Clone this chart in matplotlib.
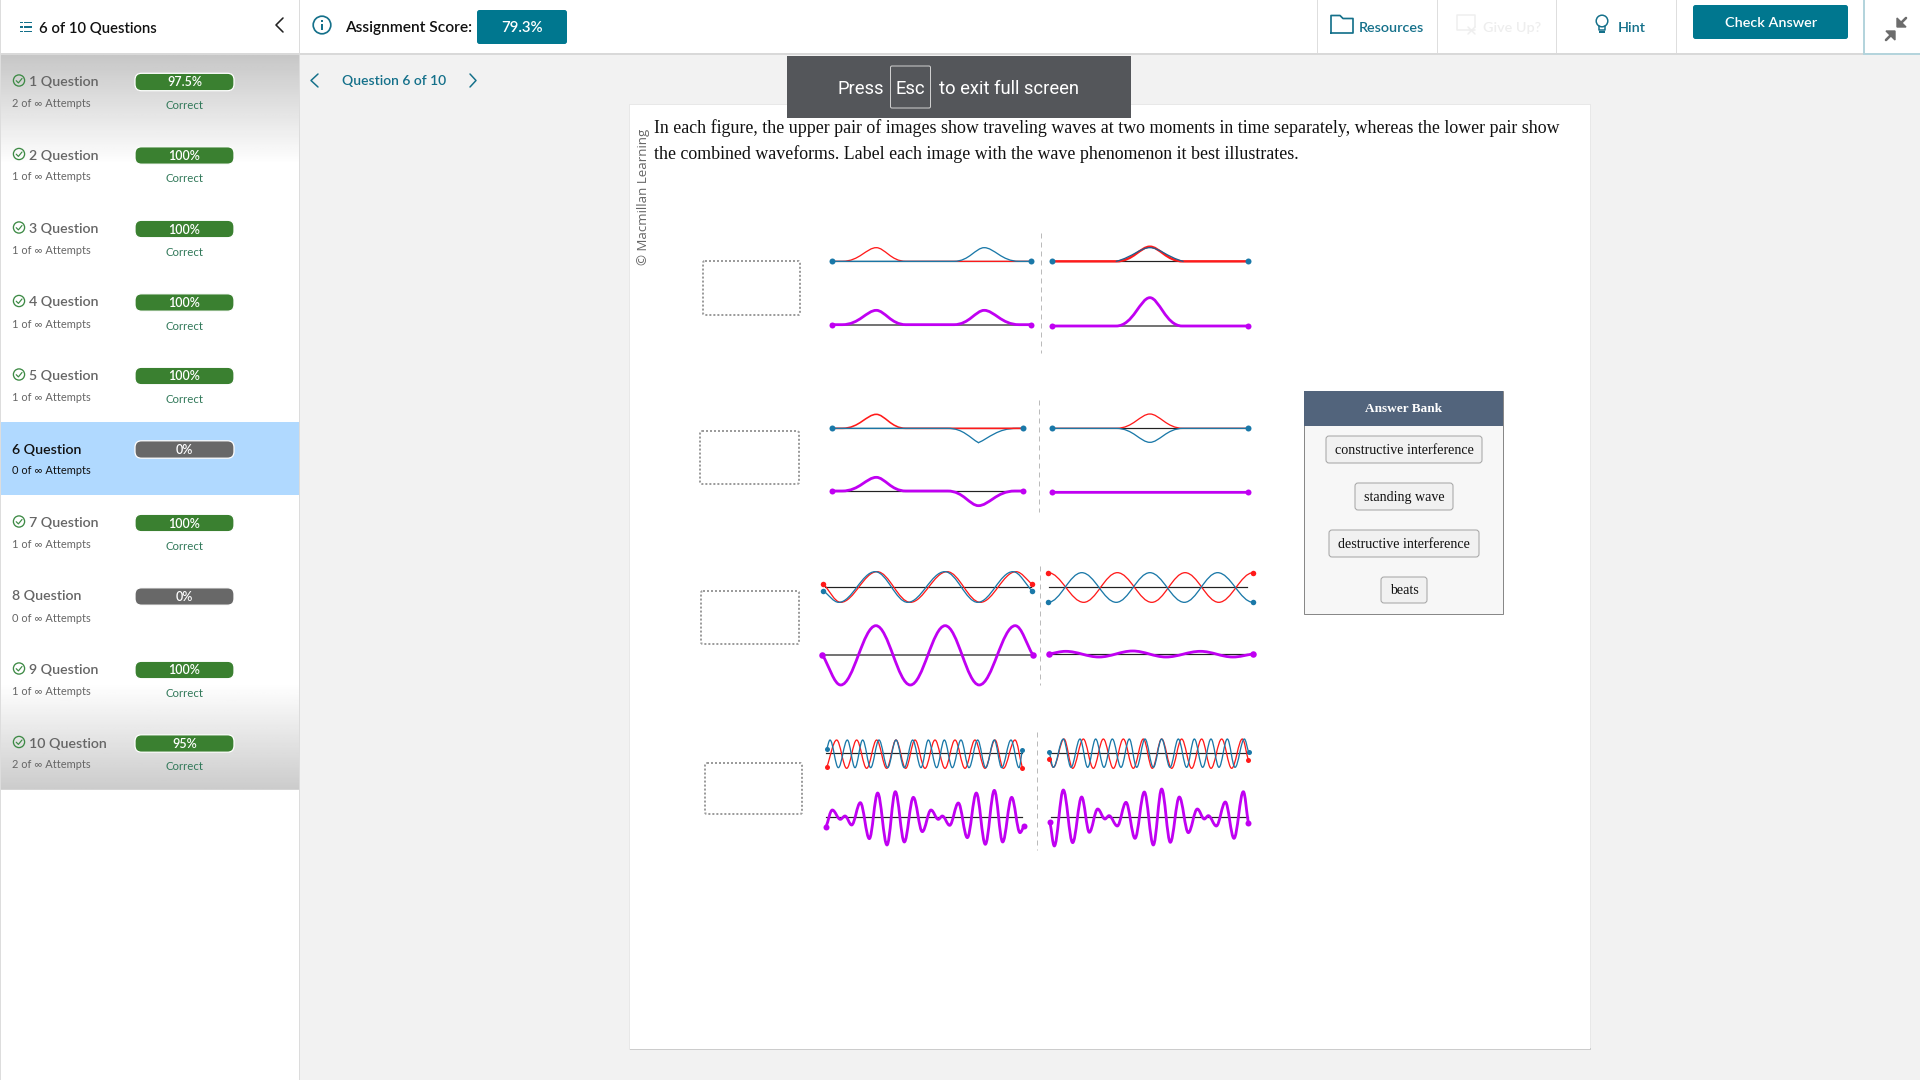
import numpy as np
import matplotlib
matplotlib.use("Agg")
import matplotlib.pyplot as plt
from matplotlib.path import Path
from matplotlib.patches import PathPatch, Rectangle, FancyBboxPatch, Circle

# ---------------- data (wave extrema) ----------------
# x = position along the string, y = displacement
a_red_x = [396, 424, 513, 590, 917]
a_red_y = [0, 0, 41, 0, 0]
a_blue_x = [396, 716, 795, 886, 917]
a_blue_y = [0, 0, 41, 0, 0]
b_red_x = [972, 1140, 1228, 1315, 1485]
b_red_y = [0, 0, 44, 0, 0]
b_blue_x = [1140, 1228, 1315]
b_blue_y = [0, 41, 0]
c_mag_x = [396, 424, 513, 590, 716, 795, 886, 917]
c_mag_y = [0, 0, 43, 0, 0, 43, 0, 0]
d_mag_x = [972, 1140, 1228, 1312, 1485]
d_mag_y = [0, 0, 85, 0, 0]

e_red_x = [396, 424, 513, 590, 896]
e_red_y = [0, 0, 42, 0, 0]
e_blue_x = [396, 700, 780, 880, 896]
e_blue_y = [0, 0, -43, 0, 0]
f_red_x = [972, 1140, 1228, 1315, 1485]
f_red_y = [0, 0, 43, 0, 0]
f_blue_x = [972, 1140, 1228, 1315, 1485]
f_blue_y = [0, 0, -42, 0, 0]
g_mag_x = [396, 424, 513, 590, 700, 780, 875, 896]
g_mag_y = [0, 0, 41, 0, 0, -44, 0, 0]
h_mag_x = [972, 1485]
h_mag_y = [0, 0]

i_red_x = [375, 420, 515, 602, 698, 785, 878, 921]
i_red_y = [9, -45, 47, -45, 47, -45, 47, 9]
i_blue_x = [375, 415, 510, 595, 692, 778, 870, 921]
i_blue_y = [-11, -45, 47, -45, 47, -45, 47, -11]
j_red_x = [962, 1055, 1143, 1233, 1320, 1408, 1498]
j_red_y = [44, -45, 44, -45, 44, -45, 44]
j_blue_x = [962, 1050, 1140, 1228, 1318, 1405, 1498]
j_blue_y = [-45, 44, -45, 44, -45, 44, -45]
k_mag_x = [372, 420, 512, 602, 693, 782, 876, 923]
k_mag_y = [0, -90, 88, -90, 88, -90, 88, -1]
l_mag_x = [964, 1008, 1095, 1183, 1270, 1360, 1445, 1497]
l_mag_y = [-1, 7, -10, 8, -10, 7, -10, -1]

m_blue_x = [35, 45, 70, 97, 120, 143, 167, 192, 218, 243, 268, 293, 318, 340, 365, 388, 412, 438, 462, 488, 512, 538, 560, 588, 612, 622]
m_blue_y = [11, 39, -44, 39, -44, 39, -44, 39, -44, 39, -44, 39, -44, 39, -44, 39, -44, 39, -44, 39, -44, 39, -44, 39, -44, 9]
m_red_x = [35, 65, 95, 125, 155, 185, 215, 243, 272, 300, 330, 360, 390, 420, 450, 480, 510, 540, 565, 600, 622]
m_red_y = [-43, 39, -46, 39, -46, 39, -46, 39, -46, 39, -46, 39, -46, 39, -46, 39, -46, 39, -46, 39, -44]
n_mag_x = [33, 52, 76, 90, 110, 136, 163, 188, 216, 241, 268, 295, 322, 348, 370, 382, 404, 430, 457, 484, 511, 538, 563, 590, 615, 627]
n_mag_y = [-29, 22, -6, 4, -23, 44, -64, 73, -83, 77, -74, 60, -43, 22, -6, 4, -24, 43, -61, 73, -81, 81, -74, 60, -46, -26]

o_blue_x = [43, 55, 85, 108, 135, 158, 182, 207, 232, 258, 283, 305, 330, 355, 380, 405, 430, 455, 478, 503, 528, 552, 577, 600, 628, 641]
o_blue_y = [3, -42, 43, -42, 43, -42, 43, -42, 43, -42, 43, -42, 43, -42, 43, -42, 43, -42, 43, -42, 43, -42, 43, -42, 43, 3]
o_red_x = [43, 55, 87, 113, 145, 175, 205, 235, 265, 295, 325, 352, 380, 410, 440, 470, 500, 528, 560, 590, 622, 640]
o_red_y = [-17, -42, 43, -45, 43, -45, 43, -45, 43, -45, 43, -45, 43, -45, 43, -45, 43, -45, 43, -45, 43, -20]
p_mag_x = [45, 58, 85, 113, 140, 163, 188, 210, 222, 247, 273, 300, 328, 355, 380, 406, 433, 460, 487, 508, 520, 544, 571, 597, 625, 640]
p_mag_y = [-15, -86, 82, -76, 61, -45, 25, -5, 5, -26, 45, -63, 76, -83, 85, -75, 61, -46, 25, -5, 5, -26, 46, -63, 77, -16]

question_numbers = [1, 2, 3, 4, 5, 6, 7, 8, 9, 10]
attempts = [2, 1, 1, 1, 1, 0, 1, 0, 1, 2]
scores = ["97.5%", "100%", "100%", "100%", "100%", "0%", "100%", "0%", "100%", "95%"]
answers = ["constructive interference", "standing wave", "destructive interference", "beats"]
question_lines = [
    "In each figure, the upper pair of images show traveling waves at two moments in time separately, whereas the lower pair show",
    "the combined waveforms. Label each image with the wave phenomenon it best illustrates.",
]

# ---------------- style ----------------
RED = "#ff1a1a"
BLUE = "#1a78a8"
MAG = "#c000f2"
TEAL = "#00778f"
TEALT = "#14708a"
GREEN = "#3a8030"
GREY = "#686868"
UI = "Lato"
SERIF = "Liberation Serif"
px = 72 / 100  # points per pixel at dpi 100

fig = plt.figure(figsize=(19.2, 10.8), dpi=100, facecolor="#f2f2f2")
ax = fig.add_axes([0, 0, 1, 1])
ax.set_xlim(0, 1920)
ax.set_ylim(1080, 0)
ax.axis("off")


def rect(x0, y0, x1, y1, fc, ec="none", lw=0, z=1):
    ax.add_patch(Rectangle((x0, y0), x1 - x0, y1 - y0, fc=fc, ec=ec, lw=lw, zorder=z))


def rbox(x0, y0, x1, y1, r, fc, ec="none", lw=0, z=2, ls="-"):
    ax.add_patch(FancyBboxPatch((x0, y0), x1 - x0, y1 - y0, boxstyle=f"round,pad=0,rounding_size={r}",
                                fc=fc, ec=ec, lw=lw, zorder=z, ls=ls))


def txt(x, y, s, size, color="#111111", ha="left", family=UI, weight="normal", z=5, **kw):
    ax.text(x, y + 1, s, fontsize=size * px, color=color, ha=ha, va="center", family=family,
            weight=weight, zorder=z, **kw)


def poly(xs, ys, color, lw=1.5, z=5):
    ax.plot(xs, ys, color=color, lw=lw * px, zorder=z, solid_capstyle="round", solid_joinstyle="round")


# ---------------- page chrome ----------------
rect(0, 0, 1920, 53, "white")
rect(0, 53, 1920, 55, "#d9d9d9", z=3)
rect(1, 55, 299, 1080, "white")
rect(0, 0, 1, 1080, "#dddddd", z=3)
rect(299, 0, 300, 1080, "#dcdcdc", z=3)

top_grad = np.linspace(0.78, 1.0, 64)[:, None]
ax.imshow(top_grad, extent=(1, 299, 165, 55), cmap="gray", vmin=0, vmax=1, aspect="auto", zorder=1.5)
bot_grad = np.linspace(1.0, 0.80, 64)[:, None]
ax.imshow(bot_grad, extent=(1, 299, 789, 683), cmap="gray", vmin=0, vmax=1, aspect="auto", zorder=1.5)
rect(1, 789, 299, 790, "#d5d5d5", z=2)
ax.set_xlim(0, 1920)
ax.set_ylim(1080, 0)
rect(1, 422, 299, 495, "#b0d9ff", z=1.6)

# sidebar header
for yy in (22.5, 27, 31.5):
    rect(20, yy - 0.9, 22.5, yy + 0.9, TEALT, z=4)
    rect(24, yy - 0.9, 32, yy + 0.9, TEALT, z=4)
txt(39, 28, "6 of 10 Questions", 14.9, weight="semibold")
poly([283, 276, 283], [18, 25, 32], "#222222", 1.6)

# sidebar rows
for i, (q, att, sc) in enumerate(zip(question_numbers, attempts, scores)):
    cy = 81.5 + 73.5 * i
    current = q == 6
    solved = sc != "0%"
    tc = "#111111" if current else "#666666"
    if solved:
        ax.add_patch(Circle((19, cy - 1), 5.6, fc="none", ec="#3d8a45", lw=1.1 * px * 1.2, zorder=4))
        poly([16.2, 18.4, 22], [cy - 0.8, cy + 1.4, cy - 3], "#3d8a45", 1.2)
        tx = 29
    else:
        tx = 12
    txt(tx, cy - 0.5, f"{q} Question", 14.1, tc, weight="semibold")
    txt(12, cy + 21, f"{att} of \u221e Attempts", 11, tc)
    fc = GREEN if solved else GREY
    rbox(135, cy - 8.2, 234, cy + 9.2, 6.5, fc, ec="white", lw=0.9, z=3)
    txt(184.5, cy, sc, 12.5, "white", ha="center", weight="semibold")
    if solved:
        txt(185, cy + 23, "Correct", 11.4, "#32795a", ha="center")

# score area
ax.add_patch(Circle((322, 25), 8.8, fc="none", ec=TEALT, lw=1.7 * px, zorder=4))
rect(321.2, 24, 322.8, 30, TEALT, z=4)
rect(321.2, 20, 322.8, 21.6, TEALT, z=4)
txt(345, 27, "Assignment Score:", 15.5, weight="semibold")
rbox(477, 10, 567, 44, 2.5, TEAL)
txt(522, 27, "79.3%", 15, "white", ha="center", weight="semibold")
poly([318, 311, 318], [74, 80.5, 87], TEALT, 1.5)
txt(342, 80, "Question 6 of 10", 13.9, TEALT, weight="semibold")
poly([470, 476, 470], [74, 80.5, 87], TEALT, 1.5)

# top toolbar
for xx in (1317, 1437, 1556, 1676):
    rect(xx, 0, xx + 1, 53, "#dedede", z=3)
poly([1331, 1331, 1340, 1343, 1353, 1353, 1331], [33, 15.5, 15.5, 18.5, 18.5, 33, 33], TEALT, 1.7)
txt(1359, 27, "Resources", 14.4, TEALT, weight="semibold")
poly([1475, 1457, 1457, 1475, 1475], [30, 30, 15, 15, 27], "#eeeeee", 1.5)
poly([1468, 1475], [27, 34], "#eeeeee", 1.5)
poly([1475, 1468], [27, 34], "#eeeeee", 1.5)
txt(1483, 27, "Give Up?", 14.4, "#eeeeee", weight="semibold")
ax.add_patch(Circle((1602, 21), 5.8, fc="none", ec=TEALT, lw=1.5 * px, zorder=4))
poly([1599, 1599, 1605, 1605], [26, 30, 30, 26], TEALT, 1.5)
rect(1599, 31, 1605, 32.5, TEALT, z=4)
txt(1618, 27, "Hint", 14.4, TEALT, weight="semibold")
rbox(1693, 5, 1848, 39, 2.5, TEAL)
txt(1771, 22, "Check Answer", 14.4, "white", ha="center", weight="semibold")
rect(1864, 0, 1920, 53, "white", z=2)
rect(1863, 0, 1865, 55, "#b4d4dc", z=3)
rect(1864, 53, 1920, 55, "#b4d4dc", z=3)
for pts in ([(1897, 27), (1906, 27), (1897, 18)], [(1895, 31), (1886, 31), (1895, 40)]):
    ax.fill([p[0] for p in pts], [p[1] for p in pts], color="#6c6c6c", zorder=4)
poly([1900, 1906], [24, 18], "#6c6c6c", 2.6)
poly([1892, 1886], [34, 40], "#6c6c6c", 2.6)

# question card
rect(629, 104, 1591, 1050, "#e8e8e8", z=1)
rect(630, 1048, 1591, 1050, "#cccccc", z=1.1)
rect(630, 105, 1590, 1048.5, "white", z=1.2)
ax.text(643, 265, "\u00a9 Macmillan Learning", fontsize=13.3 * px, rotation=90, color="#666666",
        ha="left", va="center", family="Open Sans", zorder=4, rotation_mode="anchor")
for yy, line in zip((127, 153.5), question_lines):
    txt(654, yy, line, 17.85, "#111111", family=SERIF)

# full-screen notice
rect(787, 56, 1131, 118, "#54565a", z=6)
txt(837.5, 88.5, "Press", 18.4, "white", family="Roboto", z=7)
rbox(890.5, 66, 930.5, 108, 1.5, "none", ec="#cfcfcf", lw=1 * px, z=7)
txt(910.5, 88.5, "Esc", 18.4, "white", ha="center", family="Roboto", z=7)
txt(939, 88.5, "to exit full screen", 18.4, "white", family="Roboto", z=7)

# answer bank
rect(1304, 391, 1503, 614, "#f7f7f7", ec="#888888", lw=1 * px, z=2)
rect(1304, 391, 1503, 426, "#52647c", z=3)
txt(1404, 407.5, "Answer Bank", 13.2, "white", ha="center", family=SERIF, weight="bold")
boxes = [(1326, 1482, 436, 463), (1355, 1453, 483, 510), (1329, 1479, 530, 557), (1381, 1427, 577, 603)]
for (x0, x1, y0, y1), lab in zip(boxes, answers):
    rbox(x0, y0, x1, y1, 3, "#f1f1f1", ec="#a5a5a5", lw=1 * px, z=3)
    txt((x0 + x1) / 2, (y0 + y1) / 2 - 0.5, lab, 14, "#111111", ha="center", family=SERIF)

# drop boxes
for x0, x1, y0, y1 in [(703, 800, 261, 315), (700, 799, 431, 484), (701, 799, 591, 644), (705, 802, 763, 814)]:
    rbox(x0, y0, x1, y1, 2, "none", ec="#9c9c9c", lw=2 * px, z=3, ls=(0, (1, 1)))

# figure separators
for xx, y0, y1 in [(1041, 233, 353), (1038.5, 400, 512), (1040, 566, 685), (1037, 732, 850)]:
    ax.plot([xx, xx], [y0, y1], color="#bbbbbb", lw=1 * px, ls=(0, (5, 4)), zorder=3)


# ---------------- waves ----------------
def wave_axes(ox, sx, base, xmin, xmax):
    """Axes for one panel: data x in reading units, displacement in reading units (3 per pixel)."""
    half = 135
    left = ox + xmin * sx
    width = (xmax - xmin) * sx
    a = fig.add_axes([left / 1920, 1 - (base + half / 3) / 1080, width / 1920, (2 * half / 3) / 1080])
    a.set_xlim(xmin, xmax)
    a.set_ylim(-half, half)
    a.axis("off")
    a.patch.set_alpha(0)
    return a


def curve(a, xs, ys, color, lw, z, flat_ends=False, pulse=False):
    verts = [(xs[0], ys[0])]
    codes = [Path.MOVETO]
    n = len(xs)
    for k in range(n - 1):
        dx = xs[k + 1] - xs[k]
        y0, y1 = ys[k], ys[k + 1]
        c0 = y0 + (y1 - y0) * 0.33 if k == 0 and not flat_ends else y0
        c1 = y1 + (y0 - y1) * 0.33 if k == n - 2 and not flat_ends else y1
        h0 = (0.5 if y0 == 0 else 0.28) if pulse else 0.36
        h1 = (0.5 if y1 == 0 else 0.28) if pulse else 0.36
        verts += [(xs[k] + h0 * dx, c0), (xs[k + 1] - h1 * dx, c1), (xs[k + 1], y1)]
        codes += [Path.CURVE4] * 3
    a.add_patch(PathPatch(Path(verts, codes), fc="none", ec=color, lw=lw * px, zorder=z,
                          capstyle="round", joinstyle="round", clip_on=False))


def dots(a, xs, ys, color, size):
    a.plot([xs[0], xs[-1]], [ys[0], ys[-1]], "o", color=color, ms=size * px, mew=0, zorder=6, clip_on=False)


def base_line(a, x0, x1, color="#222222", lw=1.2):
    a.plot([x0, x1], [0, 0], color=color, lw=lw * px, zorder=2, clip_on=False)


S1 = 600 / 1568
S2 = 1 / 3
W = 1.3
M = 2.8

# figure 1
a = wave_axes(680, S1, 210 + 154 / 3, 396, 917)
base_line(a, 396, 917)
curve(a, a_red_x, a_red_y, RED, W, 3, pulse=True)
curve(a, a_blue_x, a_blue_y, BLUE, W, 4, pulse=True)
dots(a, a_blue_x, a_blue_y, BLUE, 6)

a = wave_axes(680, S1, 210 + 154 / 3, 972, 1485)
base_line(a, 972, 1485)
curve(a, b_red_x, b_red_y, RED, 2.4, 3, pulse=True)
curve(a, b_blue_x, b_blue_y, "#205f8f", W, 4, pulse=True)
dots(a, b_red_x, b_red_y, BLUE, 6)

a = wave_axes(680, S1, 210 + 344 / 3, 396, 917)
base_line(a, 396, 917, "#666666", 1.8)
curve(a, c_mag_x, c_mag_y, MAG, M, 3, pulse=True)
dots(a, c_mag_x, c_mag_y, MAG, 6)

a = wave_axes(680, S1, 210 + 348 / 3, 972, 1485)
base_line(a, 972, 1485, "#666666", 1.8)
curve(a, d_mag_x, d_mag_y, MAG, M, 3, pulse=True)
dots(a, d_mag_x, d_mag_y, MAG, 6)

# figure 2
a = wave_axes(680, S1, 210 + 655 / 3, 396, 896)
base_line(a, 396, 896)
curve(a, e_red_x, e_red_y, RED, W + 0.3, 3, pulse=True)
curve(a, e_blue_x[:3], e_blue_y[:3], BLUE, W, 4, pulse=True)
curve(a, e_blue_x[2:], e_blue_y[2:], BLUE, W, 2.5, pulse=True)
dots(a, e_blue_x, e_blue_y, BLUE, 6)

a = wave_axes(680, S1, 210 + 655 / 3, 972, 1485)
base_line(a, 972, 1485)
curve(a, f_red_x, f_red_y, RED, W, 3, pulse=True)
curve(a, f_blue_x, f_blue_y, BLUE, W, 4, pulse=True)
dots(a, f_blue_x, f_blue_y, BLUE, 6)

a = wave_axes(680, S1, 210 + 843 / 3, 396, 896)
base_line(a, 396, 896)
curve(a, g_mag_x, g_mag_y, MAG, M, 3, pulse=True)
dots(a, g_mag_x, g_mag_y, MAG, 6)

a = wave_axes(680, S1, 210 + 847 / 3, 972, 1485)
curve(a, h_mag_x, h_mag_y, MAG, M, 3)
dots(a, h_mag_x, h_mag_y, MAG, 6)

# figure 3
a = wave_axes(680, S1, 550 + 112 / 3, 372, 925)
base_line(a, 380, 918)
curve(a, i_red_x, i_red_y, RED, W, 3)
curve(a, i_blue_x, i_blue_y, BLUE, W, 4)
dots(a, i_red_x, i_red_y, RED, 5.5)
dots(a, i_blue_x, i_blue_y, BLUE, 5.5)

a = wave_axes(680, S1, 550 + 112 / 3, 960, 1500)
base_line(a, 965, 1483)
curve(a, j_red_x, j_red_y, RED, W, 3, flat_ends=True)
curve(a, j_blue_x, j_blue_y, BLUE, W, 4, flat_ends=True)
dots(a, j_red_x, j_red_y, RED, 5.5)
dots(a, j_blue_x, j_blue_y, BLUE, 5.5)

a = wave_axes(680, S1, 550 + 315 / 3, 372, 925)
base_line(a, 372, 920, "#666666", 1.8)
curve(a, k_mag_x, k_mag_y, MAG, M, 3)
dots(a, k_mag_x, k_mag_y, MAG, 6.5)

a = wave_axes(680, S1, 550 + 311 / 3, 960, 1500)
base_line(a, 970, 1482)
curve(a, l_mag_x, l_mag_y, MAG, M, 3)
dots(a, l_mag_x, l_mag_y, MAG, 6.5)

# figure 4
a = wave_axes(815, S2, 725 + 84 / 3, 30, 630)
base_line(a, 33, 620)
curve(a, m_red_x, m_red_y, RED, W, 3)
curve(a, m_blue_x, m_blue_y, BLUE, W, 4)
dots(a, m_red_x, m_red_y, RED, 5)
dots(a, m_blue_x, m_blue_y, BLUE, 5)

a = wave_axes(815, S2, 725 + 277 / 3, 30, 630)
base_line(a, 33, 620)
curve(a, n_mag_x, n_mag_y, MAG, M, 3)
dots(a, n_mag_x, n_mag_y, MAG, 6)

a = wave_axes(1035, S2, 725 + 85 / 3, 40, 645)
base_line(a, 45, 640)
curve(a, o_red_x, o_red_y, RED, W, 3)
curve(a, o_blue_x, o_blue_y, BLUE, W, 4)
dots(a, o_red_x, o_red_y, RED, 5)
dots(a, o_blue_x, o_blue_y, BLUE, 5)

a = wave_axes(1035, S2, 725 + 277 / 3, 40, 645)
base_line(a, 48, 638)
curve(a, p_mag_x, p_mag_y, MAG, M, 3)
dots(a, p_mag_x, p_mag_y, MAG, 6)

fig.savefig("out.png", dpi=100, facecolor=fig.get_facecolor())
